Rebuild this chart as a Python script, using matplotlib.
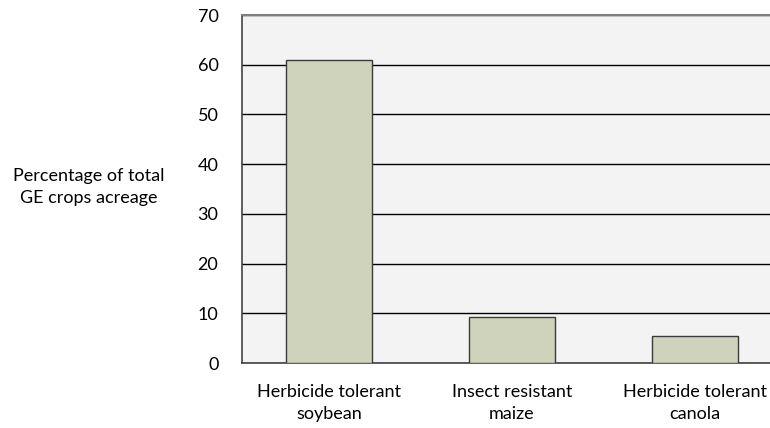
import matplotlib
matplotlib.use("Agg")
import matplotlib.pyplot as plt

categories = ["Herbicide tolerant\nsoybean", "Insect resistant\nmaize", "Herbicide tolerant\ncanola"]
values = [61.0, 9.2, 5.4]
yticks = [0, 10, 20, 30, 40, 50, 60, 70]

plt.rcParams['font.family'] = ['Lato', 'DejaVu Sans']

fig = plt.figure(figsize=(7.7, 4.28), dpi=100)
ax = fig.add_axes([242/770, 1-363/428, 1-242/770, (363-15)/428])
ax.set_facecolor('#f3f3f3')

x = list(range(len(categories)))
ax.bar(x, values, width=0.47, color='#d0d3bc', edgecolor='#3a3a3a', linewidth=1.0, zorder=3)

ax.set_ylim(0, 70)
ax.set_xlim(-0.475, 2.41)
ax.set_yticks(yticks)
ax.set_yticklabels([str(t) for t in yticks], fontsize=13)
ax.set_xticks(x)
ax.set_xticklabels(categories, fontsize=13, linespacing=1.45)
ax.tick_params(axis='y', length=0, pad=17)
ax.tick_params(axis='x', length=0, pad=15)
ax.yaxis.grid(True, color='black', linewidth=1.0, zorder=1)
ax.set_axisbelow(True)

for s in ['left', 'bottom']:
    ax.spines[s].set_color('#444444')
    ax.spines[s].set_linewidth(1.2)
ax.spines['top'].set_color('#808080')
ax.spines['top'].set_linewidth(1.5)
ax.spines['right'].set_visible(False)

fig.text(89/770, 1-187/428, "Percentage of total\nGE crops acreage", ha='center', va='center',
         fontsize=13, linespacing=1.45)

fig.savefig("out.png", dpi=100, facecolor='white')
